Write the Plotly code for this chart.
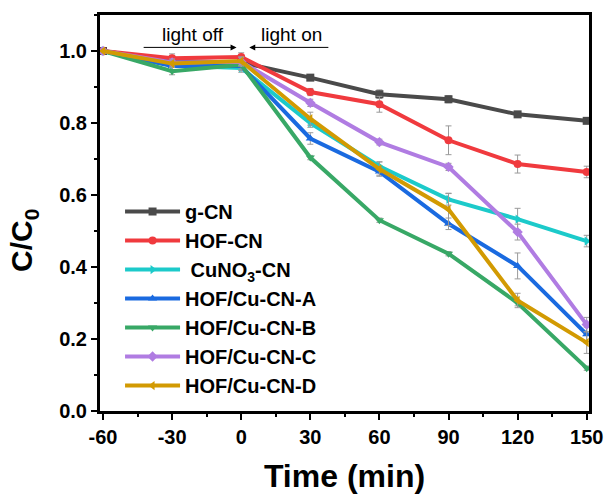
import plotly.graph_objects as go

# Sampling times (min); dark adsorption from -60 to 0, irradiation from 0 on
time = [-60, -30, 0, 30, 60, 90, 120, 150]
time_labels = ["-60", "-30", "0", "30", "60", "90", "120", "150"]

g_cn = [1.0, 0.972, 0.968, 0.926, 0.880, 0.866, 0.824, 0.806]
hof_cn = [1.0, 0.980, 0.983, 0.886, 0.852, 0.752, 0.686, 0.664]
cuno3_cn = [1.0, 0.960, 0.953, 0.800, 0.680, 0.588, 0.533, 0.472]
hof_cu_a = [1.0, 0.958, 0.958, 0.757, 0.665, 0.520, 0.403, 0.213]
hof_cu_b = [1.0, 0.944, 0.962, 0.704, 0.530, 0.437, 0.300, 0.119]
hof_cu_c = [1.0, 0.968, 0.970, 0.856, 0.747, 0.678, 0.497, 0.240]
hof_cu_d = [1.0, 0.965, 0.972, 0.812, 0.672, 0.560, 0.307, 0.190]

g_cn_err = [0.0, 0.015, 0.012, 0.006, 0.012, 0.010, 0.006, 0.005]
hof_cn_err = [0.0, 0.012, 0.012, 0.010, 0.022, 0.040, 0.025, 0.016]
cuno3_cn_err = [0.0, 0.012, 0.012, 0.012, 0.012, 0.016, 0.030, 0.016]
hof_cu_a_err = [0.0, 0.012, 0.012, 0.016, 0.010, 0.016, 0.036, 0.020]
hof_cu_b_err = [0.0, 0.010, 0.012, 0.006, 0.006, 0.006, 0.008, 0.006]
hof_cu_c_err = [0.0, 0.010, 0.012, 0.010, 0.008, 0.010, 0.022, 0.020]
hof_cu_d_err = [0.0, 0.010, 0.012, 0.018, 0.020, 0.045, 0.020, 0.030]

names = ["g-CN", "HOF-CN", " CuNO<sub>3</sub>-CN", "HOF/Cu-CN-A",
         "HOF/Cu-CN-B", "HOF/Cu-CN-C", "HOF/Cu-CN-D"]
series = [g_cn, hof_cn, cuno3_cn, hof_cu_a, hof_cu_b, hof_cu_c, hof_cu_d]
errors = [g_cn_err, hof_cn_err, cuno3_cn_err, hof_cu_a_err,
          hof_cu_b_err, hof_cu_c_err, hof_cu_d_err]
colors = ["#4a4a4a", "#f03a3e", "#1ccaca", "#1a6ae0",
          "#38a866", "#b07ce2", "#d29a02"]
symbols = ["square", "circle", "triangle-right", "triangle-up",
           "triangle-down", "diamond", "triangle-left"]

FONT = "Arial, Liberation Sans, sans-serif"

fig = go.Figure()
for name, y, err, c, s in zip(names, series, errors, colors, symbols):
    fig.add_trace(go.Scatter(
        x=time, y=y, name=name, mode="lines+markers",
        line=dict(color=c, width=4),
        marker=dict(symbol=s, size=8, color=c),
        error_y=dict(type="data", array=err, visible=True,
                     color="#9a9a9a", thickness=1, width=3),
    ))

# Phase arrows above the curves
arrow_y = 1.01
fig.add_annotation(x=-2, y=arrow_y, ax=-43, ay=arrow_y, xref="x", yref="y",
                   axref="x", ayref="y", showarrow=True, arrowhead=2,
                   arrowsize=1.2, arrowwidth=1, arrowcolor="black", text="")
fig.add_annotation(x=3.5, y=arrow_y, ax=38.5, ay=arrow_y, xref="x", yref="y",
                   axref="x", ayref="y", showarrow=True, arrowhead=2,
                   arrowsize=1.2, arrowwidth=1, arrowcolor="black", text="")
fig.add_annotation(x=-21, y=1.046, xref="x", yref="y", text="light off",
                   showarrow=False, font=dict(family=FONT, size=19, color="black"))
fig.add_annotation(x=22, y=1.046, xref="x", yref="y", text="light on",
                   showarrow=False, font=dict(family=FONT, size=19, color="black"))

# Y axis title placed as a rotated annotation
fig.add_annotation(x=-0.155, y=0.43, xref="paper", yref="paper",
                   text="C/C<sub>0</sub>", textangle=-90, showarrow=False,
                   xanchor="center", yanchor="middle",
                   font=dict(family=FONT, size=30, color="black", weight="bold"))

axis_common = dict(
    showline=True, linecolor="black", linewidth=3, mirror=True,
    ticks="outside", ticklen=6, tickwidth=2, tickcolor="black",
    showgrid=False, zeroline=False, automargin=False,
    tickfont=dict(family=FONT, size=20, color="black", weight="bold"),
)

fig.update_xaxes(
    range=[-61.3, 151], tickvals=time, ticktext=time_labels,
    minor=dict(ticks="outside", ticklen=3, tickwidth=2, tickcolor="black",
               dtick=15, tick0=-60),
    title=dict(text="Time (min)", standoff=18,
               font=dict(family=FONT, size=32, color="black", weight="bold")),
    **axis_common,
)
fig.update_yaxes(
    range=[0, 1.1], tickvals=[0, 0.2, 0.4, 0.6, 0.8, 1.0],
    tickformat=".1f",
    minor=dict(ticks="outside", ticklen=3, tickwidth=2, tickcolor="black",
               dtick=0.1, tick0=0),
    **axis_common,
)

fig.update_layout(
    width=606, height=494,
    margin=dict(l=100, r=17, t=15, b=83),
    plot_bgcolor="white", paper_bgcolor="white",
    legend=dict(x=0.041, y=0.553, xanchor="left", yanchor="top",
                bgcolor="rgba(0,0,0,0)",
                font=dict(family=FONT, size=20, color="black", weight="bold"),
                itemwidth=55),
    showlegend=True,
)

fig.write_html("out.html")
